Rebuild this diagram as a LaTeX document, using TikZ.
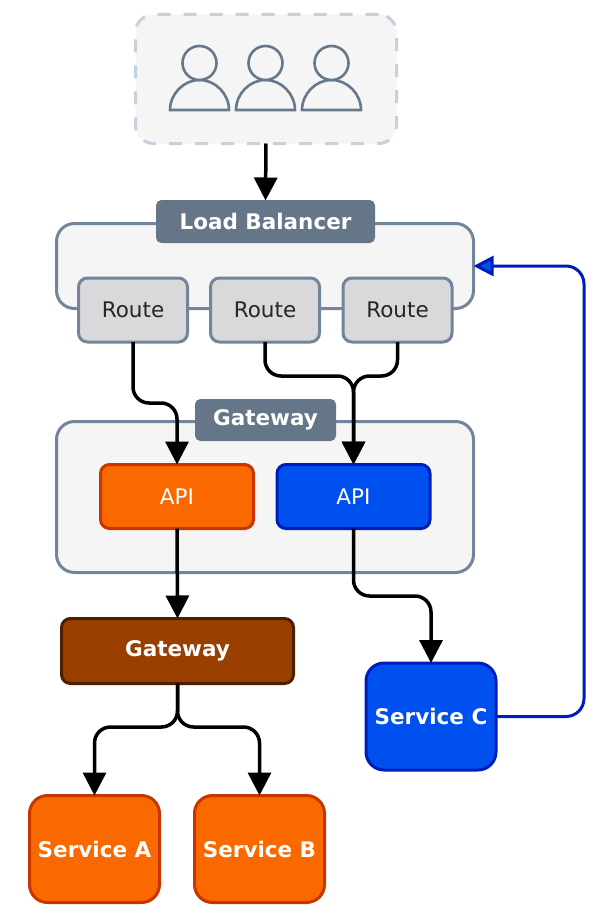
\documentclass[tikz,border=0pt]{standalone}
\usepackage{fontspec}
\setmainfont{DejaVu Sans}
\usetikzlibrary{arrows.meta,calc}
\definecolor{slateline}{HTML}{72859A}
\definecolor{slatefill}{HTML}{647687}
\definecolor{panelfill}{HTML}{F5F5F5}
\definecolor{dashline}{HTML}{C5D2DE}
\definecolor{routefill}{HTML}{D9D9DC}
\definecolor{orangefill}{HTML}{FA6800}
\definecolor{orangeline}{HTML}{C73500}
\definecolor{bluefill}{HTML}{0050EF}
\definecolor{blueline}{HTML}{001DBC}
\definecolor{brownfill}{HTML}{994000}
\definecolor{brownline}{HTML}{4D1F00}
\tikzset{
  box/.style={draw,line width=3pt,rounded corners=#1,inner sep=0pt,outer sep=0pt,text=white,font=\fontsize{21.5}{24}\selectfont},
  box/.default=9pt,
  panel/.style={box=18pt,draw=slateline,fill=panelfill},
  tag/.style={box=5pt,draw=slatefill,fill=slatefill,line width=1pt,font=\fontsize{21.5}{24}\selectfont\bfseries},
  routebox/.style={box=9pt,draw=slateline,fill=routefill,text=black!85,minimum width=109pt,minimum height=64pt},
  orangebox/.style={draw=orangeline,fill=orangefill},
  bluebox/.style={draw=blueline,fill=bluefill},
  apibox/.style={box=9pt,minimum width=153pt,minimum height=64pt},
  svcbox/.style={box=18pt,minimum width=130pt,minimum height=107pt,font=\fontsize{21.5}{24}\selectfont\bfseries},
  flow/.style={draw=black,line width=3.5pt,rounded corners=16pt,-{Triangle[length=23pt,width=23pt]}},
  backflow/.style={draw=blueline,line width=3pt,rounded corners=18pt,-{Triangle[length=20pt,width=20pt,fill=bluefill]}},
  person/.style={draw=slateline!90!black,line width=2.6pt,fill=panelfill},
}
\begin{document}
\begin{tikzpicture}[x=1pt,y=-1pt]
\useasboundingbox (0,0) rectangle (593,915);
\fill[white] (0,0) rectangle (593,915);

% users group
\node[box=18pt,draw=dashline,fill=panelfill,dash pattern=on 13pt off 13pt,minimum width=261pt,minimum height=129pt] (users) at (266,79) {};
\foreach \n/\cx in {a/199.5,b/265.5,c/331.5}{
  \draw[person] (\cx-29.5,110) .. controls (\cx-29.5,94) and (\cx-16,80) .. (\cx,80) .. controls (\cx+16,80) and (\cx+29.5,94) .. (\cx+29.5,110) -- cycle;
  \node[person,circle,inner sep=0pt,minimum size=34pt] (head\n) at (\cx,63) {};
}

% containers
\node[panel,minimum width=417pt,minimum height=85pt] (lb) at (265,266) {};
\node[panel,minimum width=417pt,minimum height=151pt] (gw) at (265,497) {};

% tags
\node[tag,minimum width=218pt,minimum height=42pt] (lbtag) at (265.5,221.5) {Load Balancer};
\node[tag,minimum width=140pt,minimum height=41pt] (gwtag) at (265.5,420) {Gateway};

% routes
\node[routebox] (r1) at (133,310) {Route};
\node[routebox] (r2) at (265,310) {Route};
\node[routebox] (r3) at (397.5,310) {Route};

% APIs
\node[apibox,orangebox] (apio) at (177,496.5) {API};
\node[apibox,bluebox] (apib) at (353.5,496.5) {API};

% brown gateway
\node[box=9pt,draw=brownline,fill=brownfill,minimum width=232pt,minimum height=65pt,font=\fontsize{21.5}{24}\selectfont\bfseries] (brown) at (177.5,651) {Gateway};

% services
\node[svcbox,orangebox] (sa) at (94.5,849) {Service A};
\node[svcbox,orangebox] (sb) at (259.5,849) {Service B};
\node[svcbox,bluebox] (sc) at (431,716.5) {Service C};

% connectors
\draw[flow] (users.south) -- (lbtag.north);
\draw[flow] (r1.south) -- (r1.south |- 0,403) -| (apio.north);
\draw[flow] (r2.south) -- (r2.south |- 0,376) -| (apib.north);
\draw[flow] (r3.south) -- (r3.south |- 0,376) -| (apib.north);
\draw[flow,rounded corners=0pt] (apio.south) -- (brown.north);
\draw[flow] (apib.south) -- (apib.south |- 0,596) -| (sc.north);
\draw[flow] (brown.south) -- (brown.south |- 0,727) -| (sa.north);
\draw[flow] (brown.south) -- (brown.south |- 0,727) -| (sb.north);
\coordinate (turnb) at (584,716.5);
\coordinate (turnt) at (584,266);
\draw[backflow] (sc.east) -- (turnb) -- (turnt) -- (lb.east);
\end{tikzpicture}
\end{document}
